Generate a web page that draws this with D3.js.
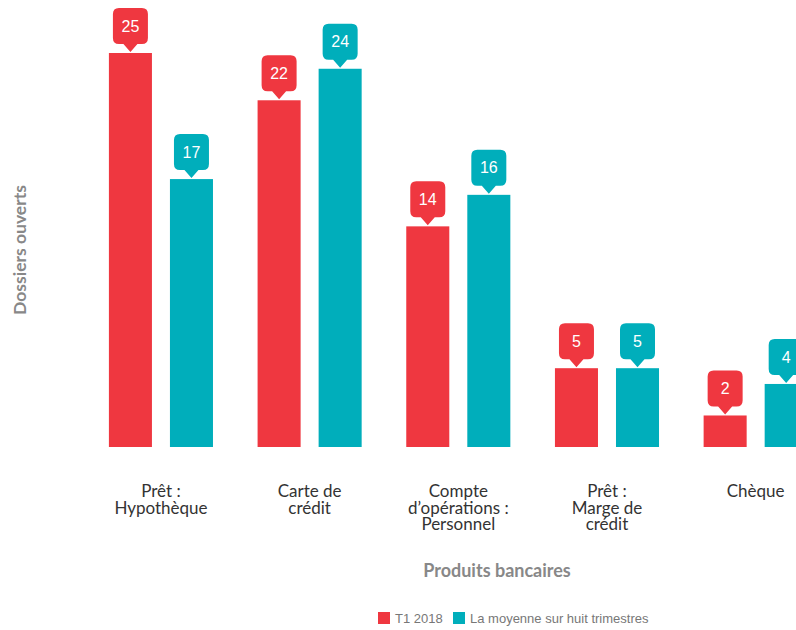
<!DOCTYPE html>
<html>
<head>
<meta charset="utf-8">
<script src="https://cdn.jsdelivr.net/npm/d3@7"></script>
<style>
  html, body { margin: 0; padding: 0; background: #fff; }
  svg { display: block; }
</style>
</head>
<body>
<svg id="chart" width="796" height="630"></svg>
<script>
const categories = [
  ["Prêt :", "Hypothèque"],
  ["Carte de", "crédit"],
  ["Compte", "d’opérations :", "Personnel"],
  ["Prêt :", "Marge de", "crédit"],
  ["Chèque"]
];
const seriesNames = ["T1 2018", "La moyenne sur huit trimestres"];
const seriesColors = ["#ef3740", "#00aebb"];
const t1Values = [25, 22, 14, 5, 2];
const avgValues = [17, 24, 16, 5, 4];
const yAxisTitle = "Dossiers ouverts";
const xAxisTitle = "Produits bancaires";

const svg = d3.select("#chart");
const catKeys = categories.map((c, i) => "c" + i);

const x0 = d3.scaleBand().domain(catKeys).range([86.6, 830]).paddingInner(0.3).paddingOuter(0.15);
const x1 = d3.scaleBand().domain([0, 1]).range([0, x0.bandwidth()]).paddingInner(0.295).paddingOuter(0);
const y = d3.scaleLinear().domain([0, 25]).range([447, 53]);

const data = catKeys.map((k, i) => ({ key: k, values: [t1Values[i], avgValues[i]] }));

const groups = svg.append("g").selectAll("g").data(data).join("g")
  .attr("transform", d => `translate(${x0(d.key)},0)`);

groups.selectAll("rect").data(d => d.values.map((v, s) => ({ v, s }))).join("rect")
  .attr("x", d => x1(d.s))
  .attr("y", d => y(d.v))
  .attr("width", x1.bandwidth())
  .attr("height", d => y(0) - y(d.v))
  .attr("fill", d => seriesColors[d.s]);

// callouts
function calloutPath(cx, tipY) {
  const w = 35, h = 36, r = 6, pw = 7, ph = 8;
  const bottom = tipY - ph, top = bottom - h, left = cx - w / 2, right = cx + w / 2;
  const p = d3.path();
  p.moveTo(left + r, top);
  p.lineTo(right - r, top);
  p.quadraticCurveTo(right, top, right, top + r);
  p.lineTo(right, bottom - r);
  p.quadraticCurveTo(right, bottom, right - r, bottom);
  p.lineTo(cx + pw, bottom);
  p.lineTo(cx, tipY);
  p.lineTo(cx - pw, bottom);
  p.lineTo(left + r, bottom);
  p.quadraticCurveTo(left, bottom, left, bottom - r);
  p.lineTo(left, top + r);
  p.quadraticCurveTo(left, top, left + r, top);
  p.closePath();
  return p.toString();
}

const labels = groups.selectAll("g.lab").data(d => d.values.map((v, s) => ({ v, s }))).join("g").attr("class", "lab");
labels.append("path")
  .attr("d", d => calloutPath(x1(d.s) + x1.bandwidth() / 2, y(d.v) - 1))
  .attr("fill", d => seriesColors[d.s]);
labels.append("text")
  .attr("x", d => x1(d.s) + x1.bandwidth() / 2)
  .attr("y", d => y(d.v) - 27)
  .attr("dy", "0.35em")
  .attr("text-anchor", "middle")
  .attr("font-family", "Liberation Sans, Arial, sans-serif")
  .attr("font-size", 16)
  .attr("fill", "#fff")
  .text(d => d.v);

// category labels
const catLabels = svg.append("g").selectAll("text").data(data).join("text")
  .attr("text-anchor", "middle")
  .attr("font-family", "Lato, sans-serif")
  .attr("font-size", 17)
  .attr("fill", "#333");
catLabels.each(function(d, i) {
  const t = d3.select(this);
  categories[i].forEach((line, j) => {
    t.append("tspan")
      .attr("x", x0(d.key) + x0.bandwidth() / 2)
      .attr("y", 497 + j * 16.5)
      .text(line);
  });
});

// axis titles
svg.append("text")
  .attr("transform", "translate(26,250) rotate(-90)")
  .attr("text-anchor", "middle")
  .attr("font-family", "Lato, sans-serif")
  .attr("font-weight", "bold")
  .attr("font-size", 17.5)
  .attr("fill", "#888")
  .text(yAxisTitle);

svg.append("text")
  .attr("x", 497).attr("y", 577)
  .attr("text-anchor", "middle")
  .attr("font-family", "Lato, sans-serif")
  .attr("font-weight", "bold")
  .attr("font-size", 18)
  .attr("fill", "#888")
  .text(xAxisTitle);

// legend
const legendX = [378, 453];
const lg = svg.append("g").selectAll("g").data(seriesNames).join("g")
  .attr("transform", (d, i) => `translate(${legendX[i]},612)`);
lg.append("rect").attr("width", 12).attr("height", 12).attr("fill", (d, i) => seriesColors[i]);
lg.append("text")
  .attr("x", 17).attr("y", 11)
  .attr("font-family", "Liberation Sans, Arial, sans-serif")
  .attr("font-size", 13)
  .attr("fill", "#777")
  .text(d => d);
</script>
</body>
</html>
